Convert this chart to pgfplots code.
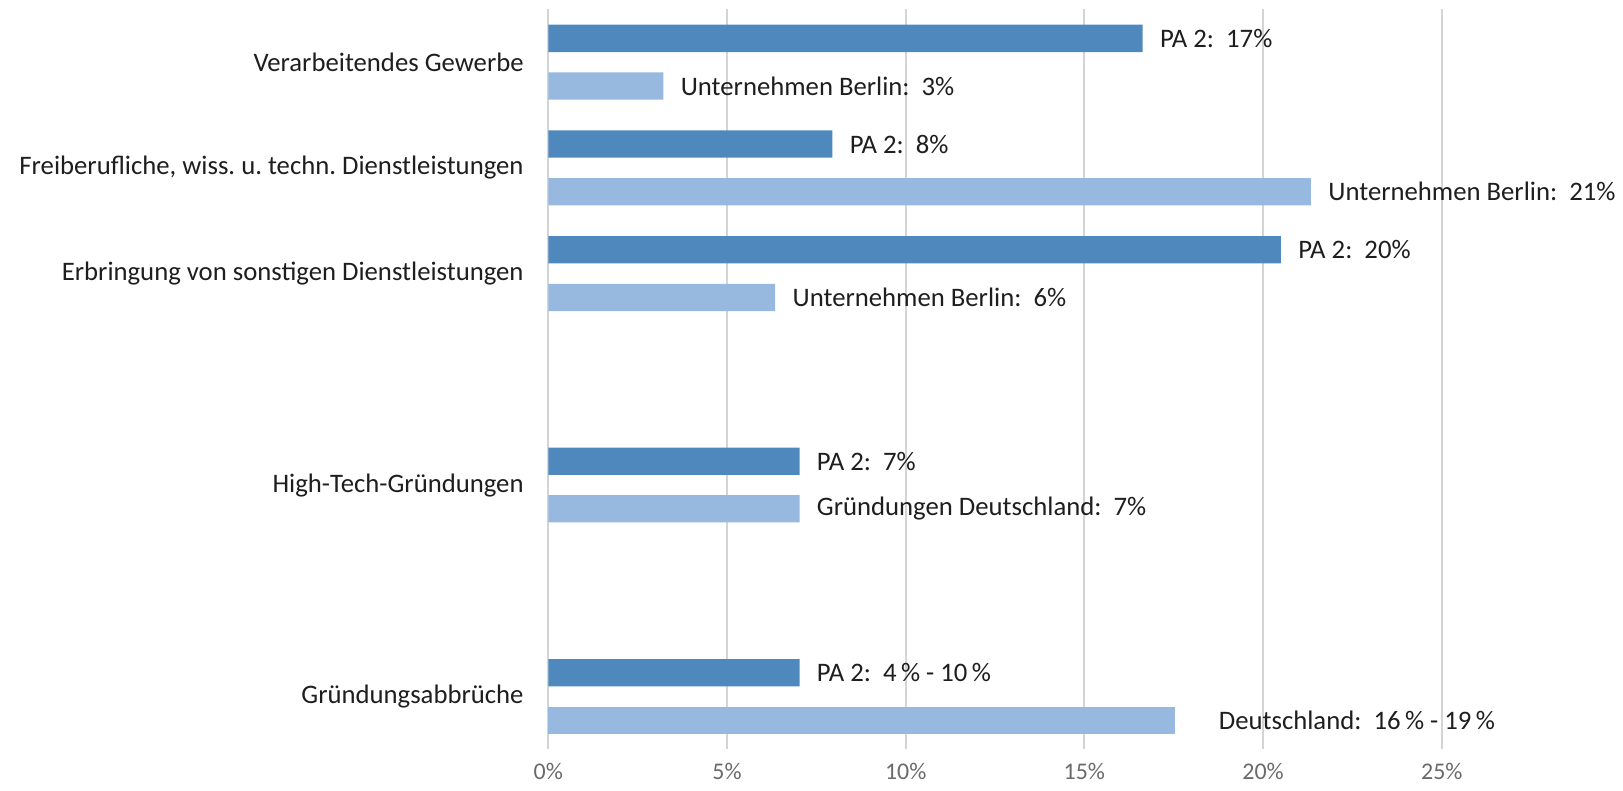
\documentclass[border=0pt]{standalone}
\usepackage{pgfplots}
\pgfplotsset{compat=1.18}
\usepackage{fontspec}
\setmainfont{Carlito}
\frenchspacing
\definecolor{darkbar}{HTML}{4E88BD}
\definecolor{lightbar}{HTML}{97B8DF}
\definecolor{txt}{HTML}{1E1E1E}
\definecolor{ticktxt}{HTML}{6A6A6A}
\definecolor{gridc}{HTML}{D4D4D4}
\begin{document}
\begin{tikzpicture}
\path (-5.483,-0.407) rectangle (10.747,7.493);
\begin{axis}[
  at={(0,0)}, anchor=south west,
  scale only axis, width=8.935cm, height=7.40cm,
  xmin=0, xmax=25, ymin=-0.5, ymax=6.5,
  xbar, bar width=0.273cm,
  axis line style={draw=none}, tick style={draw=none},
  xmajorgrids, grid style={gridc, line width=0.6pt},
  xtick={0,5,10,15,20,25},
  xticklabels={0\%,5\%,10\%,15\%,20\%,25\%},
  xticklabel style={font=\fontsize{6.8}{8}\selectfont, text=ticktxt, inner sep=0pt, anchor=north, yshift=-0.13cm},
  ytick={0,2,4,5,6},
  yticklabels={Gründungsabbrüche, High-Tech-Gründungen\ , Erbringung von sonstigen Dienstleistungen, {Freiberufliche, wiss. u. techn. Dienstleistungen}, Verarbeitendes Gewerbe},
  yticklabel style={font=\fontsize{7.6}{9}\selectfont, text=txt, inner sep=0pt, anchor=east, xshift=-0.09cm},
  clip=false,
  point meta=explicit symbolic,
  nodes near coords,
  nodes near coords style={anchor=west, inner sep=0pt, xshift=0.167cm, font=\fontsize{7.6}{9}\selectfont, text=txt},
]
\addplot[draw=none, fill=darkbar, bar shift=0.238cm] coordinates {
  (16.63,6) [PA 2:\ \ 17\%]
  (7.95,5) [PA 2:\ \ 8\%]
  (20.50,4) [PA 2:\ \ 20\%]
  (7.03,2) [PA 2:\ \ 7\%]
  (7.03,0) [PA 2:\ \ 4\,\% - 10\,\%]
};
\addplot[draw=none, fill=lightbar, bar shift=-0.238cm] coordinates {
  (3.22,6) [Unternehmen Berlin:\ \ 3\%]
  (21.34,5) [Unternehmen Berlin:\ \ 21\%]
  (6.35,4) [Unternehmen Berlin:\ \ 6\%]
  (7.03,2) [Gründungen Deutschland:\ \ 7\%]
};
\addplot[draw=none, fill=lightbar, bar shift=-0.238cm, nodes near coords style={xshift=0.263cm}] coordinates {
  (17.54,0) [Deutschland:\ \ 16\,\% - 19\,\%]
};
\end{axis}
\end{tikzpicture}
\end{document}
